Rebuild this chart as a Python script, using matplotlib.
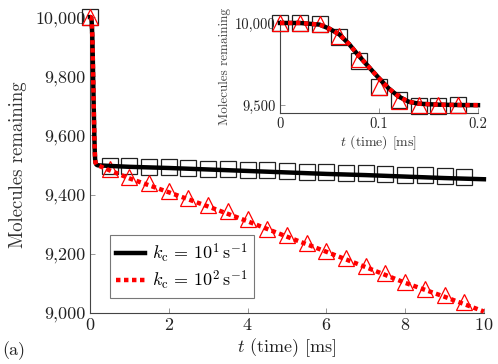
import matplotlib
matplotlib.use("Agg")
import matplotlib.pyplot as plt
from matplotlib.ticker import FuncFormatter

plt.rcParams['font.family'] = 'serif'
plt.rcParams['font.serif'] = ['cmr10', 'DejaVu Serif']
plt.rcParams['mathtext.fontset'] = 'cm'
plt.rcParams['axes.unicode_minus'] = False
plt.rcParams['axes.formatter.use_mathtext'] = True

# fast initial drop (shared by both rates)
t_fast = [0, 0.02, 0.04, 0.05, 0.06, 0.07, 0.08, 0.09, 0.10, 0.11, 0.12, 0.13, 0.14, 0.16, 0.18, 0.20]
n_fast = [10000, 10000, 9990, 9965, 9930, 9870, 9797, 9730, 9663, 9600, 9551, 9520, 9508, 9502, 9500, 9499]

# slow phase
t_slow = [0.5, 1, 2, 3, 4, 5, 6, 7, 8, 9, 10]
black_slow = [9497, 9494, 9490, 9485, 9480, 9475, 9470, 9466, 9461, 9456, 9452]
red_slow = [9482, 9455, 9408, 9360, 9310, 9258, 9207, 9155, 9102, 9055, 9005]

# simulation markers, main panel
t_mark = [0, 0.5, 1, 1.5, 2, 2.5, 3, 3.5, 4, 4.5, 5, 5.5, 6, 6.5, 7, 7.5, 8, 8.5, 9, 9.5]
black_mark = [10000, 9498, 9496, 9494, 9492, 9490, 9488, 9486, 9484, 9482, 9480, 9478, 9476,
              9474, 9472, 9470, 9468, 9466, 9464, 9461]
red_mark = [10000, 9488, 9461, 9440, 9413, 9388, 9365, 9343, 9317, 9284, 9263, 9237, 9211,
            9187, 9160, 9134, 9106, 9082, 9060, 9037]

# simulation markers, inset
t_mark_in = [0, 0.02, 0.04, 0.06, 0.08, 0.10, 0.12, 0.14, 0.16, 0.18]
black_mark_in = [10000, 10000, 9995, 9914, 9771, 9608, 9531, 9496, 9496, 9497]
red_mark_in = [10000, 10000, 9995, 9920, 9780, 9612, 9524, 9500, 9500, 9500]

labels = [r'$k_{\rm c}\,=\,10^1\,{\rm s}^{-1}$', r'$k_{\rm c}\,=\,10^2\,{\rm s}^{-1}$']

t_line = t_fast + t_slow
black_line = n_fast + black_slow
red_line = n_fast + red_slow

fig = plt.figure(figsize=(4.98, 3.64), dpi=100)
ax = fig.add_axes([0.1807, 0.1401, 0.791, 0.813])

comma = FuncFormatter(lambda v, p: f'{v:,.0f}')
spine_c = '#444444'


def style(a, fs):
    for s in ['top', 'right']:
        a.spines[s].set_visible(False)
    for s in ['left', 'bottom']:
        a.spines[s].set_color(spine_c)
        a.spines[s].set_linewidth(0.8)
    a.tick_params(direction='in', length=3.5, width=0.6, color='#888888',
                  labelsize=fs, labelcolor='#222222', pad=3)


ms = 11
ax.plot(t_mark, black_mark, 's', ms=ms, mfc='none', mec='#222222', mew=0.9, zorder=3, clip_on=False)
ax.plot(t_mark, red_mark, '^', ms=ms, mfc='none', mec='red', mew=0.9, zorder=3, clip_on=False)
ax.plot(t_line, black_line, '-', color='black', lw=3.2, label=labels[0], zorder=4, clip_on=False)
ax.plot(t_line, red_line, color='red', lw=3.2, ls=(0, (1, 0.8)), label=labels[1], zorder=5, clip_on=False)
ax.set_xlim(0, 10)
ax.set_ylim(9000, 10000)
ax.set_xticks([0, 2, 4, 6, 8, 10])
ax.set_yticks([9000, 9200, 9400, 9600, 9800, 10000])
ax.yaxis.set_major_formatter(comma)
style(ax, 13)
ax.set_xlabel(r'$t$ (time) [ms]', fontsize=13, color='#222222', labelpad=2)
ax.set_ylabel('Molecules remaining', fontsize=13.5, color='#333333', labelpad=6)
leg = ax.legend(loc='lower left', bbox_to_anchor=(0.05, 0.05), fontsize=13, frameon=True,
                fancybox=False, edgecolor='#555555', handlelength=1.6, handletextpad=0.4,
                borderpad=0.35, labelspacing=0.2, borderaxespad=0)
leg.get_frame().set_linewidth(0.8)

fig.text(0.005, 0.025, '(a)', fontsize=13, color='#222222')

# inset
axi = fig.add_axes([0.5622, 0.689, 0.3976, 0.2569])
axi.set_facecolor('none')
ms_in = 11
axi.plot(t_mark_in, black_mark_in, 's', ms=ms_in, mfc='none', mec='#222222', mew=0.9, zorder=3, clip_on=False)
axi.plot(t_mark_in, red_mark_in, '^', ms=ms_in, mfc='none', mec='red', mew=0.9, zorder=3, clip_on=False)
axi.plot(t_fast, n_fast, '-', color='black', lw=3.2, zorder=4, clip_on=False)
axi.plot(t_fast, n_fast, color='red', lw=3.2, ls=(0, (1, 0.8)), zorder=5, clip_on=False)
axi.set_xlim(0, 0.2)
axi.set_ylim(9450, 10020)
axi.set_xticks([0, 0.1, 0.2])
axi.set_xticklabels(['0', '0.1', '0.2'])
axi.set_yticks([9500, 10000])
axi.yaxis.set_major_formatter(comma)
style(axi, 10.5)
axi.set_xlabel(r'$t$ (time) [ms]', fontsize=10, color='#333333', labelpad=2)
axi.set_ylabel('Molecules remaining', fontsize=9.5, color='#444444', labelpad=3)

fig.savefig('out.png', dpi=100)
